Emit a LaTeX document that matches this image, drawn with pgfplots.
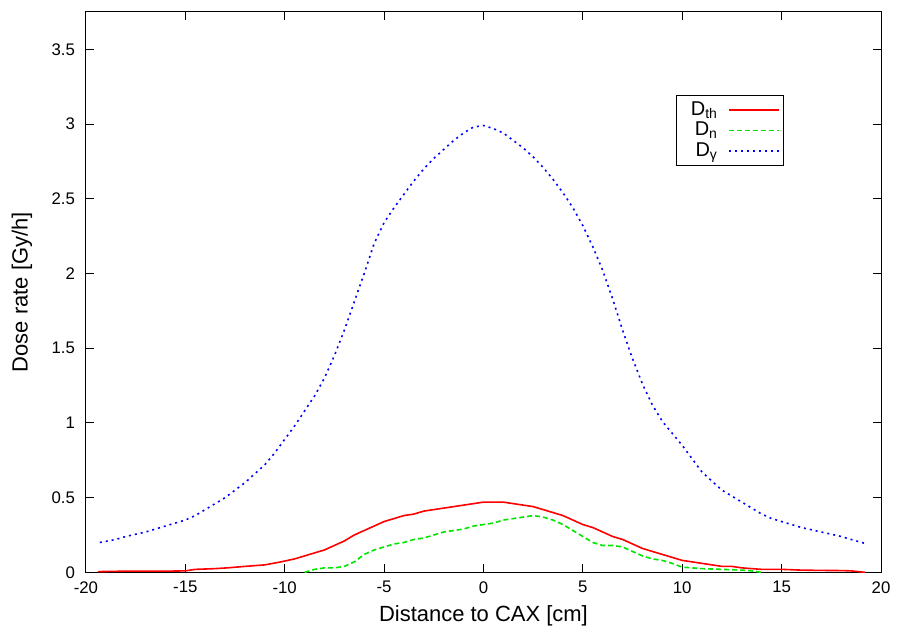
\documentclass[border=0pt]{standalone}
\usepackage{pgfplots}
\pgfplotsset{compat=1.18}
\usepackage{fontspec}
\setmainfont{Liberation Sans}
\definecolor{dngreen}{RGB}{0,230,0}
\begin{document}
\begin{tikzpicture}
\begin{axis}[
  name=ax,
  scale only axis,
  width=398pt, height=280.5pt,
  xmin=-20, xmax=20, ymin=0, ymax=3.75,
  xtick={-20,-15,...,20},
  ytick={0,0.5,...,3.5},
  tick align=inside,
  xtick pos=both, ytick pos=both,
  major tick length=4pt,
  minor tick num=0,
  axis line style={line width=0.5pt},
  every tick/.style={black, line width=0.5pt},
  /pgf/number format/assume math mode=true,
  /pgf/number format/fixed,
  ticklabel style={font=\fontsize{8.4}{10}\selectfont},
  xticklabel style={yshift=-1pt},
  yticklabel style={xshift=-2pt},
  xlabel={Distance to CAX [cm]},
  ylabel={Dose rate [Gy/h]},
  label style={font=\fontsize{11}{13}\selectfont},
  xlabel style={at={(axis description cs:0.5,-0.078)}, anchor=center},
  ylabel style={at={(axis description cs:-0.0804,0.5)}, anchor=center},
  legend style={at={(axis description cs:0.878,0.852)}, anchor=north east,
    draw=black, line width=0.5pt, font=\fontsize{10}{12}\selectfont,
    legend cell align=right, row sep=-2pt, inner xsep=2pt, inner ysep=1pt,
    nodes={inner xsep=5pt}},
  legend plot pos=right,
  legend image code/.code={\draw[#1] (0cm,0cm) -- (25pt,0cm);},
]
\addplot[red, line width=0.8pt] coordinates {
(-19.4,0.005) (-18,0.008) (-16,0.008) (-15,0.01) (-14.5,0.02) (-13.5,0.025) (-12.9,0.03) (-12,0.04) (-11,0.05) (-10.2,0.07) (-9.5,0.09) (-9,0.11) (-8.5,0.13) (-8,0.15) (-7.5,0.18) (-7,0.21) (-6.5,0.25) (-6,0.28) (-5.5,0.31) (-5,0.34) (-4.5,0.36) (-4,0.38) (-3.5,0.39) (-3,0.41) (-2.5,0.42) (-2,0.43) (-1.5,0.44) (-1,0.45) (-0.5,0.46) (0,0.47) (0.5,0.47) (1,0.47) (1.5,0.46) (2,0.45) (2.5,0.44) (3,0.42) (3.5,0.40) (4,0.38) (4.5,0.35) (5,0.32) (5.5,0.30) (6,0.27) (6.5,0.24) (7,0.22) (7.5,0.19) (8,0.16) (8.5,0.14) (9,0.12) (9.5,0.10) (10,0.08) (10.5,0.07) (11,0.06) (11.5,0.05) (12,0.04) (12.5,0.04) (13,0.03) (13.5,0.025) (14,0.02) (15,0.02) (16,0.015) (17,0.013) (18,0.012) (18.5,0.01) (19.2,0.0)
};
\addlegendentry{D\textsubscript{th}}
\addplot[dngreen, line width=0.8pt, dash pattern=on 2.5pt off 1.5pt] coordinates {
(-9,0.0) (-8.5,0.02) (-8,0.03) (-7.5,0.03) (-7,0.04) (-6.5,0.07) (-6,0.12) (-5.5,0.15) (-5,0.17) (-4.5,0.19) (-4,0.20) (-3.5,0.22) (-3,0.23) (-2.5,0.25) (-2,0.27) (-1.5,0.28) (-1,0.29) (-0.5,0.31) (0,0.32) (0.5,0.33) (1,0.35) (1.5,0.36) (2,0.37) (2.5,0.38) (3,0.37) (3.5,0.35) (4,0.32) (4.5,0.28) (5,0.24) (5.5,0.20) (6,0.18) (6.5,0.18) (7,0.17) (7.5,0.14) (8,0.11) (8.5,0.09) (9,0.08) (9.5,0.06) (10,0.035) (10.5,0.03) (11,0.025) (12,0.02) (13,0.015) (13.5,0.01) (14,0.0)
};
\addlegendentry{D\textsubscript{n}}
\addplot[blue, line width=0.8pt, dash pattern=on 1pt off 2pt] coordinates {
(-19.3,0.20) (-18.5,0.22) (-18,0.24) (-17,0.27) (-16,0.31) (-15,0.35) (-14.5,0.38) (-14,0.42) (-13,0.50) (-12.5,0.55) (-12,0.60) (-11.5,0.66) (-11,0.72) (-10.5,0.80) (-10,0.89) (-9.5,0.98) (-9,1.08) (-8.5,1.18) (-8,1.30) (-7.5,1.45) (-7,1.62) (-6.5,1.81) (-6,2.00) (-5.5,2.20) (-5,2.34) (-4.5,2.44) (-4,2.53) (-3.5,2.62) (-3,2.70) (-2.5,2.77) (-2,2.83) (-1.5,2.89) (-1,2.94) (-0.5,2.98) (0,2.99) (0.5,2.97) (1,2.94) (1.5,2.89) (2,2.84) (2.5,2.78) (3,2.71) (3.5,2.63) (4,2.54) (4.5,2.44) (5,2.32) (5.5,2.18) (6,2.02) (6.5,1.83) (7,1.62) (7.5,1.43) (8,1.26) (8.5,1.12) (9,1.01) (9.5,0.93) (10,0.85) (10.5,0.76) (11,0.67) (11.5,0.61) (12,0.55) (12.5,0.51) (13,0.47) (13.5,0.43) (14,0.39) (14.5,0.36) (15,0.34) (16,0.30) (17,0.27) (18,0.24) (18.5,0.22) (19.3,0.19)
};
\addlegendentry{D\textsubscript{γ}}
\end{axis}
\path ([xshift=-43pt,yshift=-29.5pt]ax.south west) rectangle ([xshift=7.5pt,yshift=6pt]ax.north east);
\end{tikzpicture}
\end{document}
